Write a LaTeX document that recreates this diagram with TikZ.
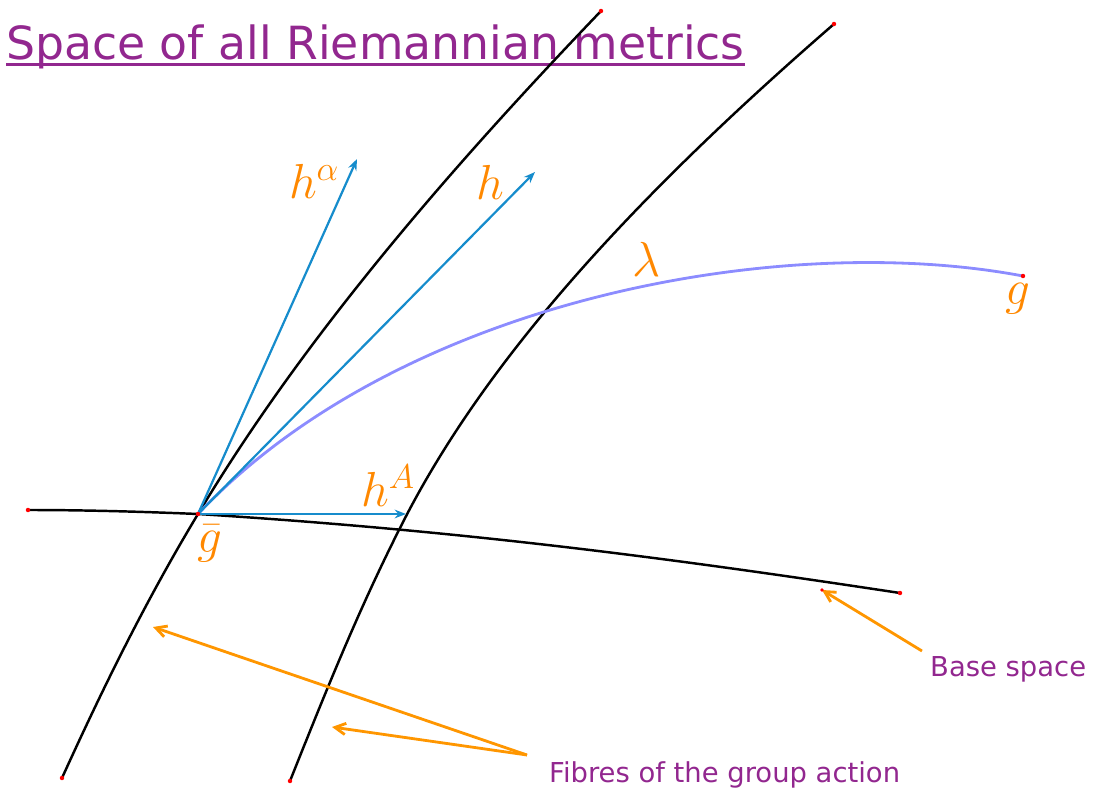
\documentclass[tikz,border=0pt]{standalone}
\usepackage{fix-cm}
\usepackage{fontspec}
\newfontfamily\dejavu{DejaVu Sans}
\usepackage{tikz}
\usetikzlibrary{arrows.meta,positioning,calc}
\definecolor{titlepurple}{RGB}{146,39,143}
\definecolor{labelorange}{RGB}{255,136,0}
\definecolor{pointerorange}{RGB}{255,150,0}
\definecolor{tangentblue}{RGB}{22,140,204}
\definecolor{pathlilac}{RGB}{140,140,255}
\tikzset{
  fibre/.style={line width=2.1pt,black},
  vector/.style={-{Stealth[length=3.4mm,width=2.6mm]},line width=1.9pt,tangentblue},
  pointer/.style={-{Straight Barb[length=3.2mm,width=3.4mm]},line width=2.4pt,pointerorange},
  geodesic/.style={line width=2.4pt,pathlilac},
  mathlabel/.style={text=labelorange,font=\fontsize{42}{48}\selectfont,inner sep=0pt},
  caption/.style={text=titlepurple,font=\dejavu\fontsize{23.4}{28}\selectfont,inner sep=0pt},
  heading/.style={text=titlepurple,font=\dejavu\fontsize{39}{46}\selectfont,inner sep=0pt}
}

\begin{document}
\begin{tikzpicture}[x=0.03cm,y=-0.03cm]
  \useasboundingbox (0,0) rectangle (1113,789);
  \node[heading,anchor=base west] (title) at (6,60) {Space of all Riemannian metrics};
  \draw[titlepurple,line width=2.2pt] ([yshift=-4pt]title.base west) -- ([yshift=-4pt]title.base east);

  % points on the curves
  \coordinate (gbar) at (198,514);
  \coordinate (fibreAbot) at (62,778);
  \coordinate (fibreAtop) at (601,11);
  \coordinate (fibreBbot) at (290,781);
  \coordinate (fibreBmid) at (400,528);
  \coordinate (fibreBtop) at (834,24);
  \coordinate (baseleft) at (28,510);
  \coordinate (baseright) at (900,593);
  \coordinate (g) at (1023,276);
  \coordinate (tipalpha) at (357,159);
  \coordinate (tiph) at (535,172);
  \coordinate (tipA) at (406,514);

  % fibres and base
  \draw[fibre] (fibreAbot) .. controls (102,690) and (145,602) .. (gbar)
    .. controls (300,344) and (438,181) .. (fibreAtop);
  \draw[fibre] (fibreBbot) .. controls (324,696) and (357,613) .. (fibreBmid)
    .. controls (485,358) and (638,194) .. (fibreBtop);
  \draw[fibre] (baseleft) .. controls (90,510) and (150,512) .. (gbar)
    .. controls (450,530) and (650,555) .. (baseright);

  % path from gbar to g
  \draw[geodesic] (gbar) .. controls (400,300) and (780,230) .. (g);

  % tangent vectors
  \draw[vector] (gbar) -- (tipalpha);
  \draw[vector] (gbar) -- (tiph);
  \draw[vector] (gbar) -- (tipA);

  \foreach \p in {gbar,fibreAbot,fibreAtop,fibreBbot,fibreBtop,baseleft,baseright,g}
    \fill[red] (\p) circle (1.9pt);

  \node[mathlabel] (halpha) at (314,181) {$h^\alpha$};
  \node[mathlabel] (hlabel) at (490,182) {$h$};
  \node[mathlabel] (lambda) at (647,259) {$\lambda$};
  \node[mathlabel] (hA) at (388,486) {$h^A$};
  \node[mathlabel] (gbarlabel) at (210,544) {$\bar g$};
  \node[mathlabel] (glabel) at (1018,299) {$g$};

  % captions with pointers
  \node[caption,anchor=base west] (basecap) at (930,676) {Base space};
  \node[caption,anchor=base west] (fibrecap) at (549,782) {Fibres of the group action};
  \coordinate (basetail) at (922,651);
  \coordinate (basetip) at (822,590);
  \coordinate (fibretail) at (527,755);
  \coordinate (fibretipA) at (153,627);
  \coordinate (fibretipB) at (332,727);
  \draw[pointer] (basetail) -- (basetip);
  \fill[red] (basetip) circle (1.6pt);
  \draw[pointer] (fibretail) -- (fibretipA);
  \draw[pointer] (fibretail) -- (fibretipB);
\end{tikzpicture}
\end{document}
